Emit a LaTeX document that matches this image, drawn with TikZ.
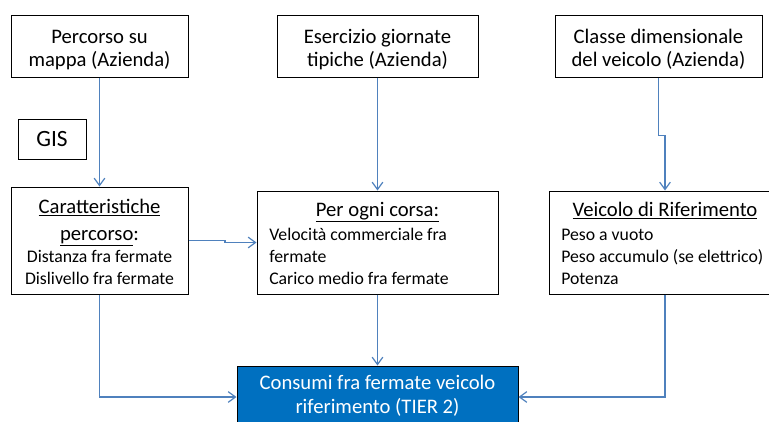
\documentclass[tikz,border=0pt]{standalone}
\usepackage{fontspec}
\setmainfont{Carlito}
\usetikzlibrary{positioning,arrows.meta}
\definecolor{linkblue}{RGB}{79,129,189}
\definecolor{tierblue}{RGB}{0,112,192}
\newcommand{\padtop}{\rule{0pt}{15.5pt}}

\begin{document}
\begin{tikzpicture}[x=0.75pt,y=0.75pt,yscale=-1,xscale=1,
  box/.style={draw=black, line width=0.75pt, inner sep=0pt},
  boxdim/.style 2 args={minimum width={#1*0.75pt}, minimum height={#2*0.75pt}},
  link/.style={draw=linkblue, line width=0.9pt, -{Straight Barb[length=5.5pt,width=8pt]}},
  bigtxt/.style={font=\fontsize{15.5}{17.25}\selectfont, align=center},
  smalltxt/.style={font=\fontsize{13.3}{16.5}\selectfont, inner sep=0pt}]
\useasboundingbox (0,0) rectangle (769,422);

%Shape: Rectangle (top row)
\node [box, boxdim={177}{62}, bigtxt] (perc) at (99.5,46) {\padtop Percorso su\\mappa (Azienda)};
\node [box, boxdim={201}{62}, bigtxt] (eserc) at (377.5,46) {\padtop Esercizio giornate\\tipiche (Azienda)};
\node [box, boxdim={207}{62}, bigtxt] (classe) at (658.5,46) {\padtop Classe dimensionale\\del veicolo (Azienda)};
\node [box, boxdim={68}{40}, font=\fontsize{17.5}{20}\selectfont] (gis) at (52,139) {GIS};

%Shape: Rectangle (middle row)
\node [box, boxdim={177}{107}] (caratt) at (99.5,240.5) {};
\node [box, boxdim={241}{103}] (corsa) at (377.5,242.5) {};
\node [box, boxdim={232}{103}] (veic) at (665,242.5) {};

%Shape: Rectangle (result)
\node [box, boxdim={281}{62}, fill=tierblue, text=white, bigtxt, font=\fontsize{15.5}{17.8}\selectfont] (consumi) at (377.5,397) {\strut Consumi fra fermate veicolo\\riferimento (TIER 2)\strut};

% Text Node
\node [anchor=north, inner sep=0pt, bigtxt, font=\fontsize{15.5}{20.2}\selectfont] (caratt title) at (99.5,194.5) {\strut\underline{Caratteristiche}\\\underline{percorso}:};
% Text Node
\node [anchor=north, smalltxt, align=center] (caratt body) at (99.5,247) {\strut Distanza fra fermate\\Dislivello fra fermate};
% Text Node
\node [anchor=base, inner sep=0pt, bigtxt] (corsa title) at (377.5,216) {\underline{Per ogni corsa:}};
% Text Node
\node [anchor=north west, smalltxt, align=left] (corsa body) at (269,224.5) {\strut Velocità commerciale fra\\fermate\\Carico medio fra fermate};
% Text Node
\node [anchor=base, inner sep=0pt, bigtxt] (veic title) at (665,216) {\underline{Veicolo di Riferimento}};
% Text Node
\node [anchor=north west, smalltxt, align=left] (veic body) at (561,224.5) {\strut Peso a vuoto\\Peso accumulo (se elettrico)\\Potenza};

%Straight Lines
\draw [link] (perc) -- (caratt);
\draw [link] (eserc) -- (corsa);
\draw [link] (classe.south) -- ++(0,58) coordinate (jog) -| (veic.north);
\draw [link] (caratt.east) -- (225,240.5) |- (corsa.west);
\draw [link] (corsa) -- (consumi);
\draw [link] (caratt.south) |- (consumi.west);
\draw [link] (veic.south) |- (consumi.east);

\end{tikzpicture}
\end{document}
